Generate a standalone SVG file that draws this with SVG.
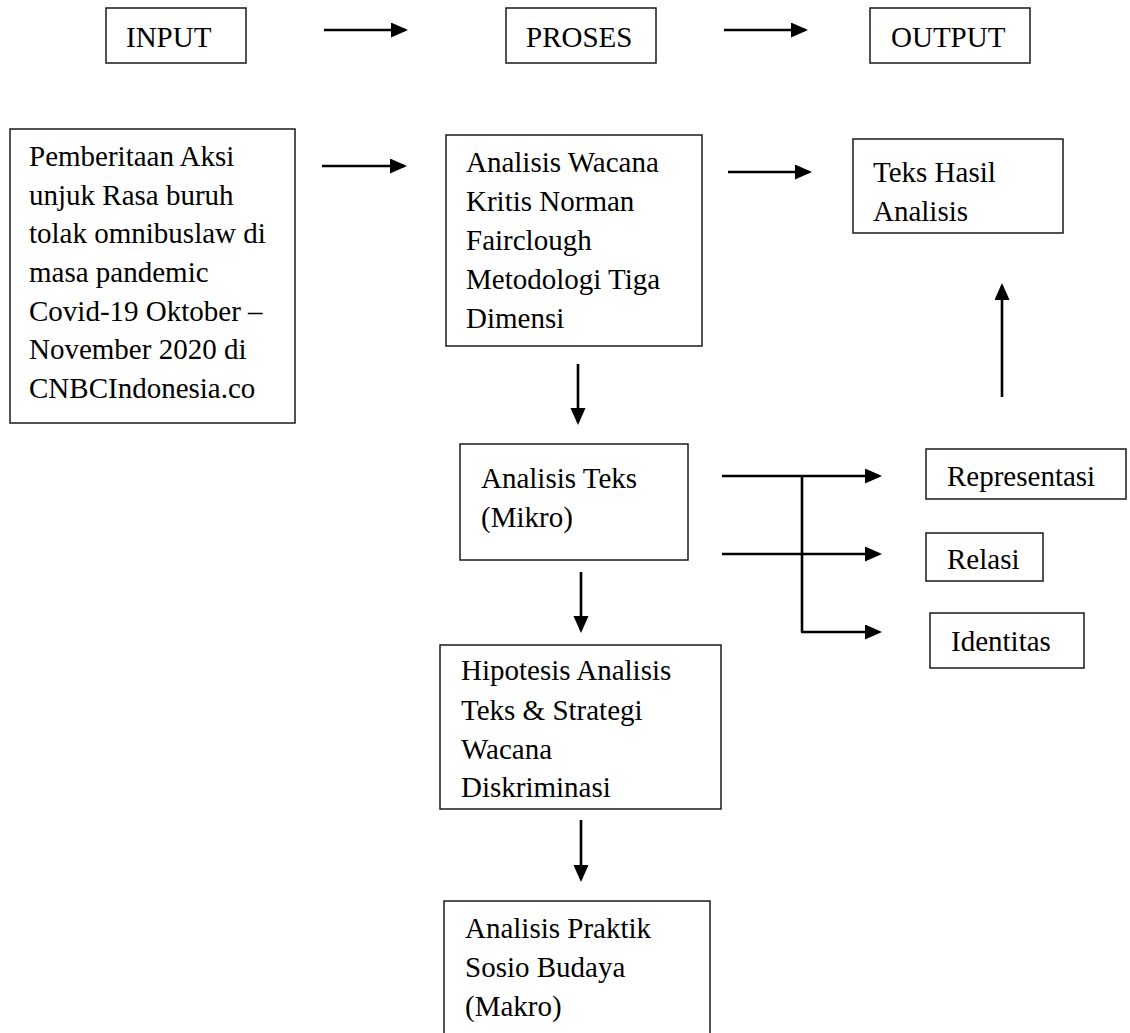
<svg xmlns="http://www.w3.org/2000/svg" width="1130" height="1033" viewBox="0 0 1130 1033">
<style>
.box{fill:#fff;stroke:#1a1a1a;stroke-width:1.5}
.t{font-family:"Liberation Serif","Times New Roman",serif;font-size:29px;fill:#000}
.c{stroke:#000;stroke-width:2.6;fill:none}
.ca{stroke:#000;stroke-width:2.6;fill:none;marker-end:url(#ah)}
</style>
<defs>
<marker id="ah" markerUnits="userSpaceOnUse" markerWidth="18" markerHeight="16" refX="14" refY="7.5" orient="auto">
<path d="M0,0 L17,7.5 L0,15 z" fill="#000"/>
</marker>
</defs>
<rect width="1130" height="1033" fill="#fff"/>
<g id="connectors">
<line class="ca" x1="324" y1="30" x2="405" y2="30"/>
<line class="ca" x1="724" y1="30" x2="805" y2="30"/>
<line class="ca" x1="322" y1="166" x2="404" y2="166"/>
<line class="ca" x1="728" y1="172" x2="809" y2="172"/>
<line class="ca" x1="578" y1="364" x2="578" y2="422"/>
<line class="ca" x1="1002" y1="397" x2="1002" y2="286"/>
<line class="ca" x1="722" y1="476" x2="879" y2="476"/>
<line class="c" x1="802" y1="476" x2="802" y2="632"/>
<line class="ca" x1="722" y1="554" x2="879" y2="554"/>
<line class="ca" x1="801" y1="632" x2="879" y2="632"/>
<line class="ca" x1="581" y1="572" x2="581" y2="630"/>
<line class="ca" x1="581" y1="820" x2="581" y2="879"/>
</g>
<g id="input">
<rect class="box" x="106" y="8" width="140" height="55"/>
<text class="t" x="126" y="47">INPUT</text>
</g>
<g id="proses">
<rect class="box" x="506" y="8" width="150" height="55"/>
<text class="t" x="526" y="47">PROSES</text>
</g>
<g id="output">
<rect class="box" x="870" y="8" width="160" height="55"/>
<text class="t" x="891" y="47">OUTPUT</text>
</g>
<g id="pemberitaan">
<rect class="box" x="10" y="129" width="285" height="294"/>
<text class="t" x="29">
<tspan x="29" y="166">Pemberitaan Aksi</tspan>
<tspan x="29" y="204.5">unjuk Rasa buruh</tspan>
<tspan x="29" y="243">tolak omnibuslaw di</tspan>
<tspan x="29" y="281.5">masa pandemic</tspan>
<tspan x="29" y="320.5">Covid-19 Oktober –</tspan>
<tspan x="29" y="359">November 2020 di</tspan>
<tspan x="29" y="397.5">CNBCIndonesia.co</tspan>
</text>
</g>
<g id="wacana">
<rect class="box" x="446" y="135" width="256" height="211"/>
<text class="t">
<tspan x="466" y="172">Analisis Wacana</tspan>
<tspan x="466" y="211">Kritis Norman</tspan>
<tspan x="466" y="250">Fairclough</tspan>
<tspan x="466" y="289">Metodologi Tiga</tspan>
<tspan x="466" y="328">Dimensi</tspan>
</text>
</g>
<g id="teks-hasil">
<rect class="box" x="853" y="139" width="210" height="94"/>
<text class="t">
<tspan x="873" y="182">Teks Hasil</tspan>
<tspan x="873" y="221">Analisis</tspan>
</text>
</g>
<g id="analisis-teks">
<rect class="box" x="460" y="444" width="228" height="116"/>
<text class="t">
<tspan x="481" y="488">Analisis Teks</tspan>
<tspan x="481" y="527">(Mikro)</tspan>
</text>
</g>
<g id="representasi">
<rect class="box" x="926" y="449" width="200" height="50"/>
<text class="t" x="947" y="486">Representasi</text>
</g>
<g id="relasi">
<rect class="box" x="926" y="533" width="117" height="48"/>
<text class="t" x="947" y="569">Relasi</text>
</g>
<g id="identitas">
<rect class="box" x="930" y="613" width="154" height="55"/>
<text class="t" x="951" y="651">Identitas</text>
</g>
<g id="hipotesis">
<rect class="box" x="440" y="645" width="281" height="164"/>
<text class="t">
<tspan x="461" y="680">Hipotesis Analisis</tspan>
<tspan x="461" y="720">Teks &amp; Strategi</tspan>
<tspan x="461" y="759">Wacana</tspan>
<tspan x="461" y="797">Diskriminasi</tspan>
</text>
</g>
<g id="praktik">
<rect class="box" x="444" y="901" width="266" height="150"/>
<text class="t">
<tspan x="465" y="938">Analisis Praktik</tspan>
<tspan x="465" y="977">Sosio Budaya</tspan>
<tspan x="465" y="1016">(Makro)</tspan>
</text>
</g>
</svg>
